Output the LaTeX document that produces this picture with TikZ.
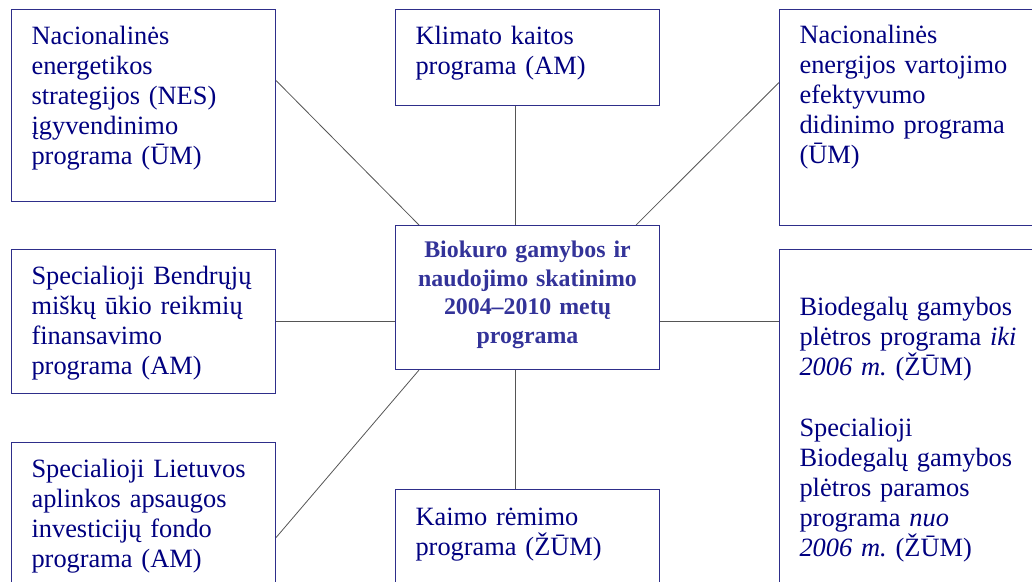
\documentclass[tikz,border=0pt]{standalone}
\usepackage{fontspec}
\setmainfont{Liberation Serif}
\frenchspacing
\definecolor{boxblue}{HTML}{2E2E8A}
\definecolor{textnavy}{HTML}{000080}
\definecolor{titleblue}{HTML}{333399}
\definecolor{linegray}{HTML}{555555}
\tikzset{
  prog/.style={draw=boxblue,line width=.8pt,fill=white,anchor=north west,align=left,inner xsep=15pt,inner ysep=0pt,text width=168pt,text=textnavy,font=\fontsize{19.8}{22.5}\selectfont},
  mainprog/.style={prog,align=center,inner xsep=7.5pt,text width=183pt,text=titleblue,font=\fontsize{17.9}{21.4}\selectfont\bfseries},
  link/.style={draw=linegray,line width=.6pt},
}

\begin{document}
\begin{tikzpicture}[x=0.75pt,y=-0.75pt]
    \useasboundingbox[fill=white] (0,0) rectangle (1032,582);
    \node[prog,text height=26.25pt,text depth=117.75pt] (nes) at (11,9) {Nacionalinės\\energetikos\\strategijos (NES)\\įgyvendinimo\\programa (ŪM)};
    \node[prog,text height=26.25pt,text depth=45.75pt] (klim) at (395,9) {Klimato kaitos\\programa (AM)};
    \node[prog,text height=25.5pt,text depth=136.5pt] (efekt) at (779,9) {Nacionalinės\\energijos vartojimo\\efektyvumo\\didinimo programa\\(ŪM)};
    \node[prog,text height=26.25pt,text depth=81.75pt] (misk) at (11,249) {Specialioji Bendrųjų\\miškų ūkio reikmių\\finansavimo\\programa (AM)};
    \node[mainprog,text height=24pt,text depth=84pt] (cen) at (395,225) {Biokuro gamybos ir\\naudojimo skatinimo\\2004--2010 metų\\programa};
    \node[prog,text height=49.5pt,text depth=213.75pt] (bio) at (779,249) {Biodegalų gamybos\\plėtros programa {\itshape iki}\\{\itshape 2006 m.} (ŽŪM)\\[23pt]Specialioji\\Biodegalų gamybos\\plėtros paramos\\programa {\itshape nuo}\\{\itshape 2006 m.} (ŽŪM)};
    \node[prog,text height=26.25pt,text depth=92.25pt] (liet) at (11,442) {Specialioji Lietuvos\\aplinkos apsaugos\\investicijų fondo\\programa (AM)};
    \node[prog,text height=27pt,text depth=56.25pt] (kaim) at (395,489) {Kaimo rėmimo\\programa (ŽŪM)};
    \draw[link] ([yshift=18.75pt]nes.east)--([xshift=18pt]cen.north west);\draw[link] ([xshift=-9pt]klim.south)--([xshift=-9pt]cen.north);
    \draw[link] ([yshift=26.25pt]efekt.west)--([xshift=-18pt]cen.north east);
    \draw[link] (misk.east)--(misk.east -| cen.west);\draw[link] (misk.east -| cen.east)--(misk.east -| bio.west);
    \draw[link] ([yshift=-12pt]liet.east)--([xshift=18pt]cen.south west);\draw[link] ([xshift=-9pt]cen.south)--([xshift=-9pt]kaim.north);
  \end{tikzpicture}
\end{document}
